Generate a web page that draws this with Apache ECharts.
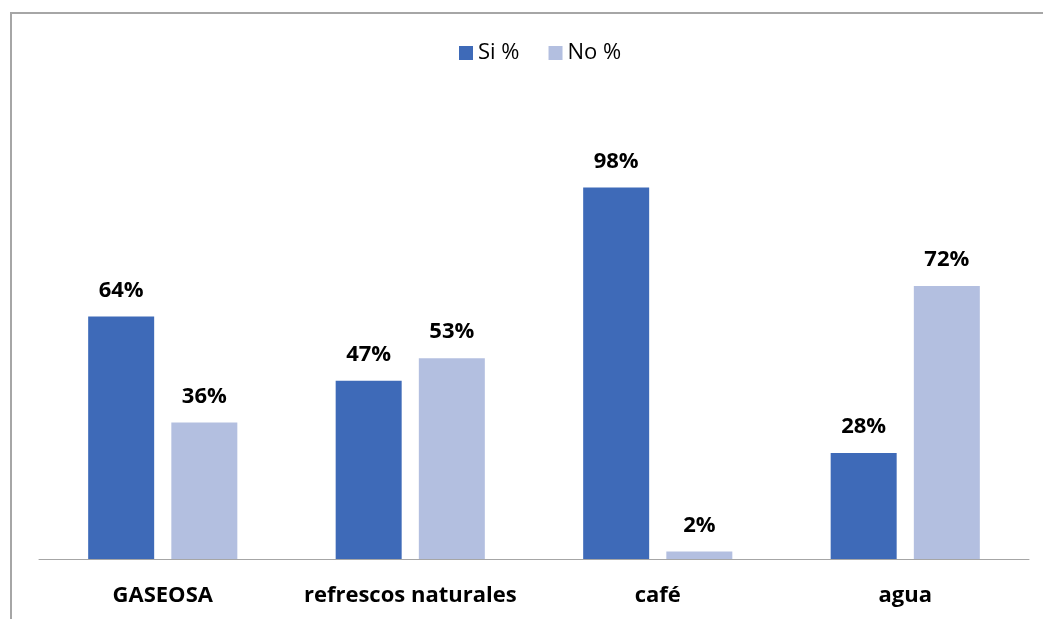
<!DOCTYPE html>
<html><head><meta charset="utf-8">
<script src="https://cdn.jsdelivr.net/npm/echarts@6/dist/echarts.min.js"></script>
<style>html,body{margin:0;padding:0;background:#fff}#c{width:1043px;height:619px}
#frame{position:absolute;left:10px;top:12px;width:1100px;height:700px;border-left:2px solid #a6a6a6;border-top:2px solid #a6a6a6;box-sizing:border-box;pointer-events:none}</style>
</head><body>
<div id="c"></div><div id="frame"></div>
<script>
const categories = ['GASEOSA', 'refrescos naturales', 'café', 'agua'];
const siValues = [64, 47, 98, 28];
const noValues = [36, 53, 2, 72];
const seriesNames = ['Si %', 'No %'];
const chart = echarts.init(document.getElementById('c'));
const lbl = {show:true, position:'top', distance:15, formatter:'{c}%', fontFamily:'Open Sans', fontWeight:'bold', fontSize:22, color:'#000'};
chart.setOption({
  animation:false,
  legend:{top:37, left:454, itemWidth:14, itemHeight:14, itemGap:29, icon:'rect',
    textStyle:{fontFamily:'Open Sans', fontSize:22, color:'#000'}},
  grid:{left:39, right:14, top:180, bottom:60},
  xAxis:{type:'category', data:categories, axisTick:{show:false},
    axisLine:{lineStyle:{color:'#a6a6a6', width:1}},
    axisLabel:{interval:0, margin:26, fontFamily:'Open Sans', fontWeight:'bold', fontSize:22, color:'#000'}},
  yAxis:{type:'value', min:0, max:100, show:false, splitLine:{show:false}},
  series:[
    {name:seriesNames[0], type:'bar', data:siValues, barWidth:66, barGap:'26%', itemStyle:{color:'#3e6ab8'}, label:lbl},
    {name:seriesNames[1], type:'bar', data:noValues, barWidth:66, itemStyle:{color:'#b3bfe0'}, label:lbl}
  ]
});
</script></body></html>
